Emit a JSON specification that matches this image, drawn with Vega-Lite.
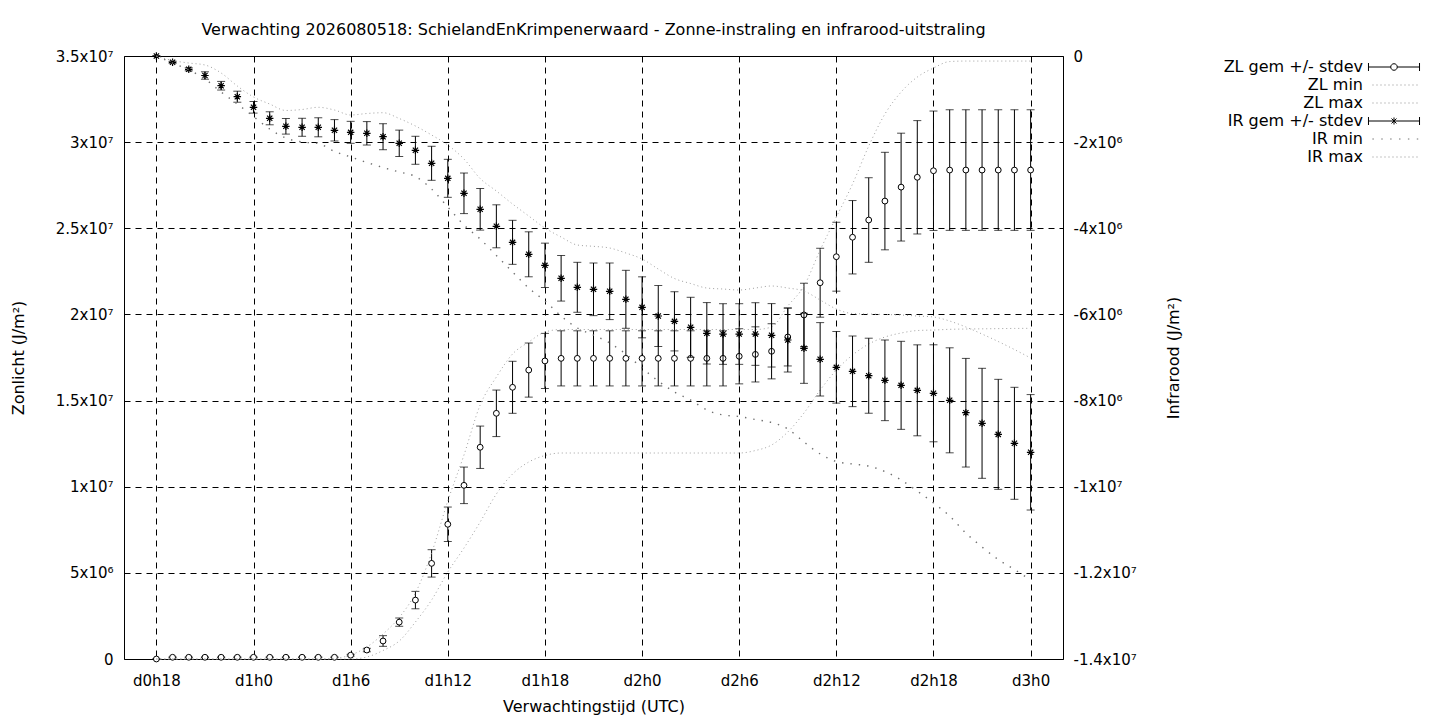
{
  "$schema": "https://vega.github.io/schema/vega-lite/v6.json",
  "width": 939,
  "height": 603,
  "autosize": {"type": "none"},
  "padding": {"left": 124, "top": 56, "right": 377, "bottom": 61},
  "background": "white",
  "title": {
    "text": "Verwachting 2026080518: SchielandEnKrimpenerwaard - Zonne-instraling en infrarood-uitstraling",
    "anchor": "middle",
    "frame": "group",
    "offset": 11,
    "font": "DejaVu Sans",
    "fontSize": 16,
    "fontWeight": "normal",
    "color": "black"
  },
  "data": {
    "values": [
      {"h": 18, "zl": 0, "zs": 0, "zmin": 0, "zmax": 0, "ir": 0, "is": 0, "imin": 0, "imax": 0},
      {"h": 19, "zl": 100000, "zs": 20000, "zmin": 0, "zmax": 0, "ir": -146000, "is": 23000, "imin": -163000, "imax": -104000},
      {"h": 20, "zl": 100000, "zs": 20000, "zmin": 0, "zmax": 0, "ir": -309000, "is": 35000, "imin": -320000, "imax": -163000},
      {"h": 21, "zl": 100000, "zs": 20000, "zmin": 0, "zmax": 0, "ir": -453000, "is": 86000, "imin": -534000, "imax": -209000},
      {"h": 22, "zl": 100000, "zs": 20000, "zmin": 0, "zmax": 0, "ir": -690000, "is": 100000, "imin": -836000, "imax": -395000},
      {"h": 23, "zl": 100000, "zs": 20000, "zmin": 0, "zmax": 0, "ir": -945000, "is": 128000, "imin": -1114000, "imax": -697000},
      {"h": 24, "zl": 100000, "zs": 20000, "zmin": 0, "zmax": 0, "ir": -1191000, "is": 135000, "imin": -1405000, "imax": -952000},
      {"h": 25, "zl": 100000, "zs": 20000, "zmin": 0, "zmax": 0, "ir": -1446000, "is": 151000, "imin": -1695000, "imax": -1115000},
      {"h": 26, "zl": 100000, "zs": 20000, "zmin": 0, "zmax": 0, "ir": -1632000, "is": 181000, "imin": -1904000, "imax": -1265000},
      {"h": 27, "zl": 100000, "zs": 20000, "zmin": 0, "zmax": 0, "ir": -1655000, "is": 209000, "imin": -1997000, "imax": -1242000},
      {"h": 28, "zl": 100000, "zs": 20000, "zmin": 0, "zmax": 0, "ir": -1655000, "is": 221000, "imin": -2032000, "imax": -1191000},
      {"h": 29, "zl": 100000, "zs": 20000, "zmin": 0, "zmax": 40000, "ir": -1725000, "is": 248000, "imin": -2217000, "imax": -1254000},
      {"h": 30, "zl": 220000, "zs": 50000, "zmin": 0, "zmax": 232000, "ir": -1772000, "is": 255000, "imin": -2345000, "imax": -1370000},
      {"h": 31, "zl": 520000, "zs": 100000, "zmin": 116000, "zmax": 696000, "ir": -1795000, "is": 272000, "imin": -2473000, "imax": -1335000},
      {"h": 32, "zl": 1045000, "zs": 310000, "zmin": 493000, "zmax": 1451000, "ir": -1874000, "is": 302000, "imin": -2589000, "imax": -1317000},
      {"h": 33, "zl": 2140000, "zs": 240000, "zmin": 1045000, "zmax": 2408000, "ir": -2027000, "is": 306000, "imin": -2693000, "imax": -1451000},
      {"h": 34, "zl": 3420000, "zs": 505000, "zmin": 2147000, "zmax": 3830000, "ir": -2189000, "is": 325000, "imin": -2798000, "imax": -1625000},
      {"h": 35, "zl": 5550000, "zs": 795000, "zmin": 3424000, "zmax": 6152000, "ir": -2491000, "is": 395000, "imin": -3088000, "imax": -1834000},
      {"h": 36, "zl": 7820000, "zs": 1000000, "zmin": 5049000, "zmax": 9170000, "ir": -2840000, "is": 441000, "imin": -3506000, "imax": -2067000},
      {"h": 37, "zl": 10080000, "zs": 1060000, "zmin": 6442000, "zmax": 11840000, "ir": -3188000, "is": 471000, "imin": -3924000, "imax": -2392000},
      {"h": 38, "zl": 12290000, "zs": 1230000, "zmin": 7951000, "zmax": 14742000, "ir": -3559000, "is": 483000, "imin": -4249000, "imax": -2845000},
      {"h": 39, "zl": 14260000, "zs": 1350000, "zmin": 9576000, "zmax": 16367000, "ir": -3954000, "is": 499000, "imin": -4632000, "imax": -3134000},
      {"h": 40, "zl": 15770000, "zs": 1510000, "zmin": 10737000, "zmax": 17702000, "ir": -4326000, "is": 511000, "imin": -5015000, "imax": -3436000},
      {"h": 41, "zl": 16770000, "zs": 1570000, "zmin": 11433000, "zmax": 18398000, "ir": -4604000, "is": 522000, "imin": -5387000, "imax": -3715000},
      {"h": 42, "zl": 17300000, "zs": 1600000, "zmin": 11811000, "zmax": 18979000, "ir": -4860000, "is": 515000, "imin": -5688000, "imax": -3994000},
      {"h": 43, "zl": 17450000, "zs": 1600000, "zmin": 11956000, "zmax": 19124000, "ir": -5161000, "is": 529000, "imin": -6037000, "imax": -4203000},
      {"h": 44, "zl": 17450000, "zs": 1600000, "zmin": 11956000, "zmax": 19124000, "ir": -5370000, "is": 580000, "imin": -6315000, "imax": -4388000},
      {"h": 45, "zl": 17450000, "zs": 1600000, "zmin": 11956000, "zmax": 19124000, "ir": -5417000, "is": 611000, "imin": -6478000, "imax": -4419000},
      {"h": 46, "zl": 17450000, "zs": 1600000, "zmin": 11956000, "zmax": 19124000, "ir": -5463000, "is": 657000, "imin": -6664000, "imax": -4458000},
      {"h": 47, "zl": 17450000, "zs": 1600000, "zmin": 11956000, "zmax": 19124000, "ir": -5649000, "is": 673000, "imin": -6919000, "imax": -4574000},
      {"h": 48, "zl": 17450000, "zs": 1600000, "zmin": 11956000, "zmax": 19124000, "ir": -5835000, "is": 708000, "imin": -7244000, "imax": -4713000},
      {"h": 49, "zl": 17450000, "zs": 1600000, "zmin": 11956000, "zmax": 19124000, "ir": -6037000, "is": 708000, "imin": -7546000, "imax": -4946000},
      {"h": 50, "zl": 17450000, "zs": 1600000, "zmin": 11956000, "zmax": 19124000, "ir": -6160000, "is": 687000, "imin": -7801000, "imax": -5166000},
      {"h": 51, "zl": 17450000, "zs": 1600000, "zmin": 11956000, "zmax": 19124000, "ir": -6299000, "is": 697000, "imin": -7987000, "imax": -5282000},
      {"h": 52, "zl": 17450000, "zs": 1600000, "zmin": 11956000, "zmax": 19124000, "ir": -6438000, "is": 713000, "imin": -8219000, "imax": -5387000},
      {"h": 53, "zl": 17450000, "zs": 1600000, "zmin": 11956000, "zmax": 19124000, "ir": -6455000, "is": 704000, "imin": -8335000, "imax": -5410000},
      {"h": 54, "zl": 17570000, "zs": 1600000, "zmin": 11956000, "zmax": 19124000, "ir": -6455000, "is": 704000, "imin": -8370000, "imax": -5433000},
      {"h": 55, "zl": 17680000, "zs": 1600000, "zmin": 12101000, "zmax": 19124000, "ir": -6455000, "is": 727000, "imin": -8440000, "imax": -5387000},
      {"h": 56, "zl": 17860000, "zs": 1600000, "zmin": 12420000, "zmax": 19269000, "ir": -6485000, "is": 736000, "imin": -8509000, "imax": -5340000},
      {"h": 57, "zl": 18690000, "zs": 1680000, "zmin": 13175000, "zmax": 20488000, "ir": -6594000, "is": 743000, "imin": -8660000, "imax": -5387000},
      {"h": 58, "zl": 19970000, "zs": 1840000, "zmin": 14277000, "zmax": 21648000, "ir": -6787000, "is": 813000, "imin": -8962000, "imax": -5457000},
      {"h": 59, "zl": 21840000, "zs": 2000000, "zmin": 15612000, "zmax": 23738000, "ir": -7042000, "is": 852000, "imin": -9240000, "imax": -5665000},
      {"h": 60, "zl": 23350000, "zs": 2000000, "zmin": 16773000, "zmax": 25653000, "ir": -7228000, "is": 831000, "imin": -9415000, "imax": -5874000},
      {"h": 61, "zl": 24480000, "zs": 2130000, "zmin": 17644000, "zmax": 27568000, "ir": -7321000, "is": 820000, "imin": -9473000, "imax": -5979000},
      {"h": 62, "zl": 25480000, "zs": 2455000, "zmin": 18282000, "zmax": 29773000, "ir": -7423000, "is": 871000, "imin": -9520000, "imax": -5990000},
      {"h": 63, "zl": 26580000, "zs": 2830000, "zmin": 18688000, "zmax": 31631000, "ir": -7530000, "is": 936000, "imin": -9647000, "imax": -6002000},
      {"h": 64, "zl": 27390000, "zs": 3130000, "zmin": 18920000, "zmax": 32908000, "ir": -7646000, "is": 1022000, "imin": -9844000, "imax": -6013000},
      {"h": 65, "zl": 27960000, "zs": 3290000, "zmin": 19065000, "zmax": 33778000, "ir": -7762000, "is": 1056000, "imin": -10100000, "imax": -6037000},
      {"h": 66, "zl": 28340000, "zs": 3465000, "zmin": 19094000, "zmax": 34301000, "ir": -7831000, "is": 1126000, "imin": -10378000, "imax": -6060000},
      {"h": 67, "zl": 28380000, "zs": 3500000, "zmin": 19135000, "zmax": 34678000, "ir": -7994000, "is": 1219000, "imin": -10680000, "imax": -6153000},
      {"h": 68, "zl": 28380000, "zs": 3500000, "zmin": 19153000, "zmax": 34707000, "ir": -8282000, "is": 1261000, "imin": -11075000, "imax": -6292000},
      {"h": 69, "zl": 28380000, "zs": 3500000, "zmin": 19164000, "zmax": 34707000, "ir": -8528000, "is": 1277000, "imin": -11400000, "imax": -6455000},
      {"h": 70, "zl": 28380000, "zs": 3500000, "zmin": 19176000, "zmax": 34707000, "ir": -8784000, "is": 1277000, "imin": -11690000, "imax": -6629000},
      {"h": 71, "zl": 28380000, "zs": 3500000, "zmin": 19187000, "zmax": 34707000, "ir": -8992000, "is": 1300000, "imin": -11922000, "imax": -6815000},
      {"h": 72, "zl": 28380000, "zs": 3500000, "zmin": 19193000, "zmax": 34707000, "ir": -9201000, "is": 1340000, "imin": -12166000, "imax": -7012000}
    ]
  },
  "encoding": {
    "x": {
      "field": "h",
      "type": "quantitative",
      "scale": {"domain": [16, 74], "nice": false, "zero": false},
      "axis": {
        "title": "Verwachtingstijd (UTC)",
        "values": [18, 24, 30, 36, 42, 48, 54, 60, 66, 72],
        "labelExpr": "'d' + floor(datum.value / 24) + 'h' + (datum.value % 24)",
        "labelPadding": 14,
        "grid": true,
        "gridDash": [6, 5],
        "gridColor": "black",
        "gridOpacity": 1,
        "titleY": 47,
        "titleBaseline": "middle"
      }
    }
  },
  "layer": [
    {
      "layer": [
        {
          "mark": {"type": "errorbar", "ticks": {"size": 8, "thickness": 1, "color": "black"}, "rule": {"color": "black", "strokeWidth": 1}},
          "encoding": {
            "y": {
              "field": "zl",
              "type": "quantitative",
              "scale": {"domain": [0, 35000000], "nice": false},
              "axis": {
                "orient": "left",
                "title": "Zonlicht (J/m²)",
                "values": [0, 5000000, 10000000, 15000000, 20000000, 25000000, 30000000, 35000000],
                "labelExpr": "datum.value == 0 ? '0' : datum.value < 10000000 ? format(datum.value / 1000000, '~g') + 'x10⁶' : format(datum.value / 10000000, '~g') + 'x10⁷'",
                "labelPadding": 11,
                "grid": true,
                "gridDash": [6, 5],
                "gridColor": "black",
                "gridOpacity": 1,
                "titleX": -106,
                "titleBaseline": "middle"
              }
            },
            "yError": {"field": "zs"}
          }
        },
        {
          "mark": {"type": "point", "shape": "circle", "size": 34, "filled": true, "fill": "white", "stroke": "black", "strokeWidth": 1, "opacity": 1},
          "encoding": {"y": {"field": "zl", "type": "quantitative", "title": "Zonlicht (J/m²)"}}
        },
        {
          "mark": {"type": "line", "interpolate": "monotone", "color": "#a0a0a0", "strokeWidth": 1, "strokeDash": [1, 3]},
          "encoding": {"y": {"field": "zmin", "type": "quantitative", "title": "Zonlicht (J/m²)"}}
        },
        {
          "mark": {"type": "line", "interpolate": "monotone", "color": "#a0a0a0", "strokeWidth": 1, "strokeDash": [1, 3]},
          "encoding": {"y": {"field": "zmax", "type": "quantitative", "title": "Zonlicht (J/m²)"}}
        },
        {
          "data": {
            "values": [
              {"s": "ZL gem +/- stdev"},
              {"s": "ZL min"},
              {"s": "ZL max"},
              {"s": "IR gem +/- stdev"},
              {"s": "IR min"},
              {"s": "IR max"}
            ]
          },
          "transform": [{"filter": "false"}],
          "mark": {"type": "point", "filled": false, "opacity": 1, "strokeWidth": 1},
          "encoding": {
            "x": {"value": 0},
            "color": {
              "field": "s",
              "type": "nominal",
              "scale": {
                "domain": ["ZL gem +/- stdev", "ZL min", "ZL max", "IR gem +/- stdev", "IR min", "IR max"],
                "range": ["black", "#a0a0a0", "#a0a0a0", "black", "#707070", "#a0a0a0"]
              },
              "legend": {
                "title": null, "orient": "none", "legendX": 1261.5, "legendY": 2.5,
                "symbolSize": 256, "symbolStrokeWidth": 1, "symbolOpacity": 1, "symbolFillColor": "transparent",
                "labelAlign": "right", "labelOffset": -39.5, "labelFont": "DejaVu Sans", "labelFontSize": 16,
                "labelColor": "black", "labelLimit": 0, "rowPadding": 1
              }
            },
            "shape": {
              "field": "s",
              "type": "nominal",
              "scale": {
                "domain": ["ZL gem +/- stdev", "ZL min", "ZL max", "IR gem +/- stdev", "IR min", "IR max"],
                "range": [
                  "M-3.19,-0.5V0.5M3.19,-0.5V0.5M-3.19,0H-0.41M0.41,0H3.19M-0.41,0A0.41,0.41,0,1,1,0.41,0A0.41,0.41,0,1,1,-0.41,0",
                  "M-2.7,0h0.15M-2.2,0h0.15M-1.7,0h0.15M-1.2,0h0.15M-0.7,0h0.15M-0.2,0h0.15M0.3,0h0.15M0.8,0h0.15M1.3,0h0.15M1.8,0h0.15M2.3,0h0.15M2.8,0h0.15",
                  "M-2.7,0h0.15M-2.2,0h0.15M-1.7,0h0.15M-1.2,0h0.15M-0.7,0h0.15M-0.2,0h0.15M0.3,0h0.15M0.8,0h0.15M1.3,0h0.15M1.8,0h0.15M2.3,0h0.15M2.8,0h0.15",
                  "M-3.19,-0.5V0.5M3.19,-0.5V0.5M-3.19,0H3.19M0,-0.44V0.44M-0.31,-0.31L0.31,0.31M-0.31,0.31L0.31,-0.31",
                  "M-2.7,0h0.18M-1.59,0h0.18M-0.48,0h0.18M0.63,0h0.18M1.74,0h0.18M2.85,0h0.18",
                  "M-2.7,0h0.15M-2.2,0h0.15M-1.7,0h0.15M-1.2,0h0.15M-0.7,0h0.15M-0.2,0h0.15M0.3,0h0.15M0.8,0h0.15M1.3,0h0.15M1.8,0h0.15M2.3,0h0.15M2.8,0h0.15"
                ]
              },
              "legend": {
                "title": null, "orient": "none", "legendX": 1261.5, "legendY": 2.5,
                "symbolSize": 256, "symbolStrokeWidth": 1, "symbolOpacity": 1, "symbolFillColor": "transparent",
                "labelAlign": "right", "labelOffset": -39.5, "labelFont": "DejaVu Sans", "labelFontSize": 16,
                "labelColor": "black", "labelLimit": 0, "rowPadding": 1
              }
            }
          }
        }
      ]
    },
    {
      "layer": [
        {
          "mark": {"type": "errorbar", "ticks": {"size": 8, "thickness": 1, "color": "black"}, "rule": {"color": "black", "strokeWidth": 1}},
          "encoding": {
            "y": {
              "field": "ir",
              "type": "quantitative",
              "scale": {"domain": [-14000000, 0], "nice": false, "zero": false},
              "axis": {
                "orient": "right",
                "title": "Infrarood (J/m²)",
                "values": [0, -2000000, -4000000, -6000000, -8000000, -10000000, -12000000, -14000000],
                "labelExpr": "datum.value == 0 ? '0' : '-' + (abs(datum.value) < 10000000 ? format(abs(datum.value) / 1000000, '~g') + 'x10⁶' : format(abs(datum.value) / 10000000, '~g') + 'x10⁷')",
                "labelPadding": 10,
                "grid": false,
                "titleAngle": 270,
                "titleX": 110,
                "titleBaseline": "middle"
              }
            },
            "yError": {"field": "is"}
          }
        },
        {
          "mark": {"type": "point", "shape": "M-1,0H1M0,-1V1M-0.7,-0.7L0.7,0.7M-0.7,0.7L0.7,-0.7", "size": 56, "filled": false, "stroke": "black", "strokeWidth": 1.2, "opacity": 1},
          "encoding": {"y": {"field": "ir", "type": "quantitative", "title": "Infrarood (J/m²)"}}
        },
        {
          "mark": {"type": "line", "interpolate": "monotone", "color": "#707070", "strokeWidth": 1.4, "strokeDash": [1.4, 7]},
          "encoding": {"y": {"field": "imin", "type": "quantitative", "title": "Infrarood (J/m²)"}}
        },
        {
          "mark": {"type": "line", "interpolate": "monotone", "color": "#a0a0a0", "strokeWidth": 1, "strokeDash": [1, 3]},
          "encoding": {"y": {"field": "imax", "type": "quantitative", "title": "Infrarood (J/m²)"}}
        }
      ]
    }
  ],
  "resolve": {"scale": {"y": "independent"}},
  "config": {
    "font": "DejaVu Sans",
    "view": {"stroke": "black", "strokeWidth": 1},
    "axis": {
      "labelFont": "DejaVu Sans",
      "labelFontSize": 15,
      "labelColor": "black",
      "titleFont": "DejaVu Sans",
      "titleFontSize": 16,
      "titleFontWeight": "normal",
      "titleColor": "black",
      "domain": false,
      "ticks": false,
      "tickSize": 0,
      "labelOverlap": false
    }
  }
}
